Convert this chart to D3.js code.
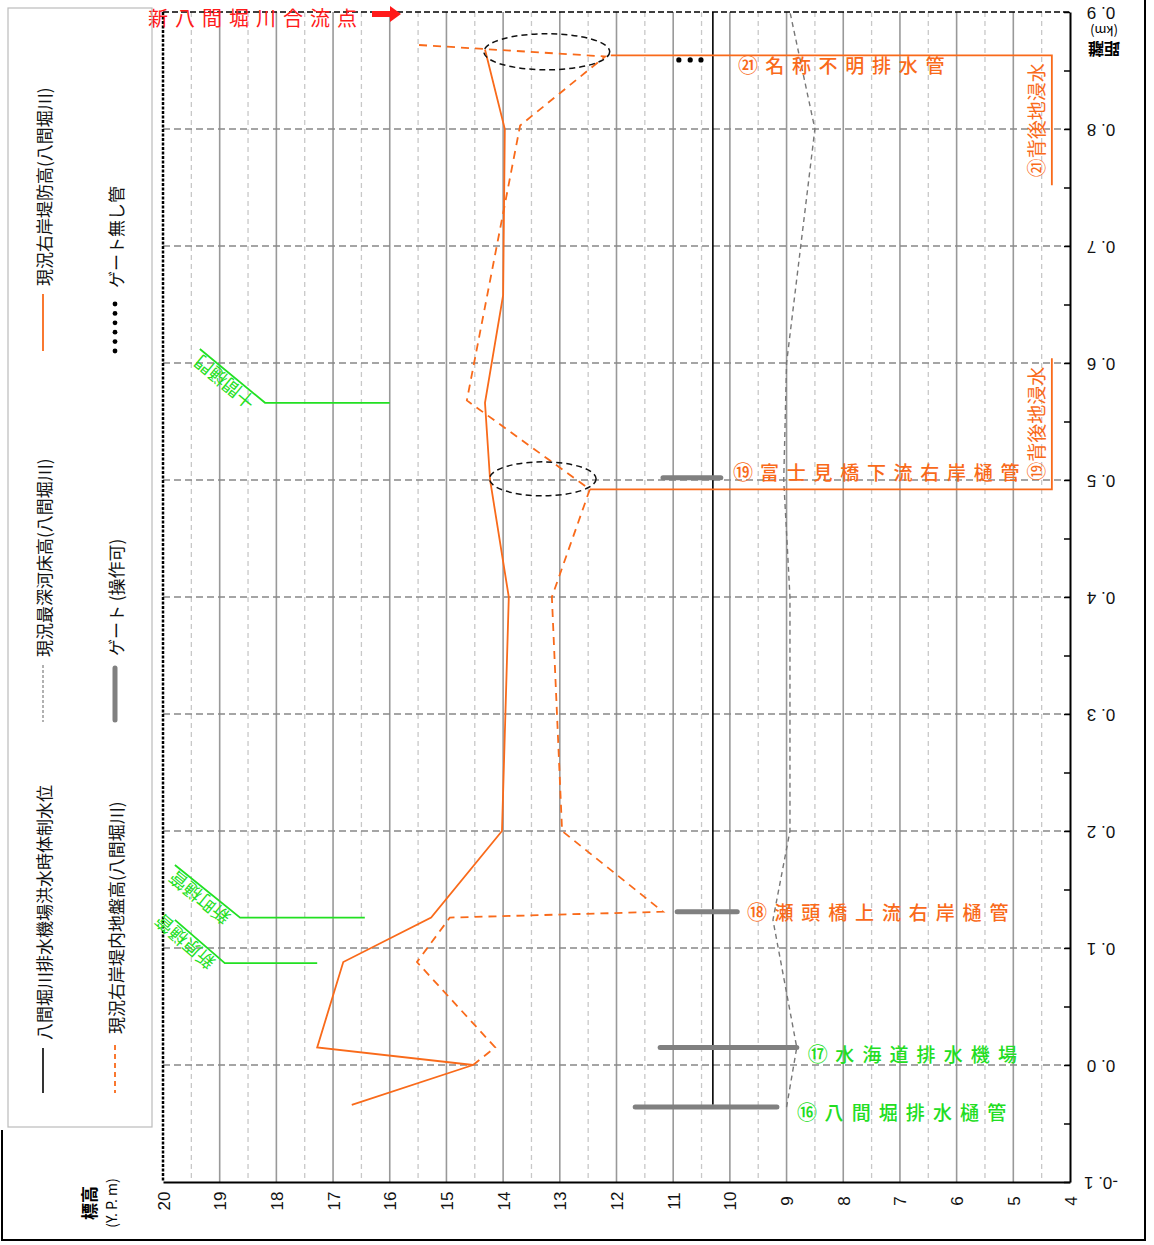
<!DOCTYPE html>
<meta charset="utf-8">
<style>
  body { margin: 0; background: #fff; overflow: hidden; }
  text { font-family: "Noto Sans CJK JP", sans-serif; }
  .num { font-family: "Liberation Sans", Arial, sans-serif; }
</style>
<svg id="canvas" width="1154" height="1245"></svg>
<script src="https://d3js.org/d3.v7.min.js"></script>
<script>

// ---- data (elevation in Y.P.m, distance in km) ----
var elevTicks = [20, 19, 18, 17, 16, 15, 14, 13, 12, 11, 10, 9, 8, 7, 6, 5, 4];
var distTicks = [-0.1, 0.0, 0.1, 0.2, 0.3, 0.4, 0.5, 0.6, 0.7, 0.8, 0.9];
var distLabels = ["-0. 1", "0. 0", "0. 1", "0. 2", "0. 3", "0. 4", "0. 5", "0. 6", "0. 7", "0. 8", "0. 9"];

// 八間堀川排水機場洪水時体制水位
var floodLevel = 10.3;
var floodRange = [-0.034, 0.9];

// 現況右岸堤防高
var leveeDist = [-0.034, 0.0, 0.015, 0.088, 0.126, 0.2, 0.4, 0.5, 0.566, 0.658, 0.8, 0.868];
var leveeElev = [16.67, 14.53, 17.28, 16.82, 15.27, 14.02, 13.9, 14.23, 14.32, 14.0, 13.97, 14.32];

// 現況右岸堤内地盤高
var groundDist = [0.0, 0.015, 0.088, 0.126, 0.131, 0.2, 0.4, 0.492, 0.568, 0.803, 0.862, 0.872];
var groundElev = [14.53, 14.14, 15.52, 14.94, 11.18, 12.96, 13.14, 12.47, 14.64, 13.7, 12.2, 15.55];

// 現況最深河床高
var bedDist = [-0.036, 0.015, 0.124, 0.2, 0.4, 0.5, 0.6, 0.8, 0.9];
var bedElev = [9.0, 8.82, 9.24, 8.94, 8.94, 9.05, 9.0, 8.5, 8.94];

// ゲート (操作可): distance, from elevation, to elevation
var gateDist = [-0.036, 0.015, 0.131, 0.502];
var gateFrom = [11.67, 11.23, 10.93, 11.18];
var gateTo = [9.17, 8.82, 9.87, 10.16];

// ゲート無し管
var pipeDist = 0.859;
var pipeElev = [10.9, 10.7, 10.51];

// facility labels
var facNames = ["⑯八間堀排水樋管", "⑰水海道排水機場", "⑱瀬頭橋上流右岸樋管", "⑲富士見橋下流右岸樋管", "㉑名称不明排水管"];
var facDist = [-0.040, 0.010, 0.131, 0.507, 0.855];
var facElev = [8.64, 8.45, 9.52, 9.77, 9.68];
var facStep = [0.478, 0.478, 0.474, 0.471, 0.471];
var facColor = ["#22dd22", "#22dd22", "#f96a1a", "#f96a1a", "#f96a1a"];

// 背後地浸水 callouts
var floodNames = ["⑲背後地浸水", "㉑背後地浸水"];
var floodLeaderDist = [[0.492, 0.604], [0.863, 0.752]];
var floodLeaderElev = [12.47, 12.1];

// ellipses (center elev, center dist, half width elev, half height dist)
var ellElev = [13.23, 13.3];
var ellDist = [0.866, 0.501];
var ellRx = [1.11, 0.94];
var ellRy = [0.0154, 0.0145];

// left bank (green) callouts
var greenNames = ["十間樋門", "新町樋管", "新原樋管"];
var greenDist = [0.566, 0.126, 0.087];
var greenElbow = [18.2, 18.64, 18.91];
var greenEnd = [16.0, 16.44, 17.28];
var greenTipElev = [19.35, 19.79, 19.79];
var greenTipDist = [0.612, 0.171, 0.124];

// ---- layout ----
var svg = d3.select("#canvas");
var x = d3.scaleLinear().domain([20, 4]).range([163, 1070]);
var y = d3.scaleLinear().domain([-0.1, 0.9]).range([1182, 12]);

var ORANGE = "#f96a1a", GREEN = "#22e022";

// grid
var grid = svg.append("g");
grid.selectAll(".half").data(d3.range(4.5, 20, 1)).enter().append("line")
    .attr("x1", d => x(d)).attr("x2", d => x(d)).attr("y1", y(0.9)).attr("y2", y(-0.1))
    .attr("stroke", "#c8c8c8").attr("stroke-width", 1.3).attr("stroke-dasharray", "5,4");
grid.selectAll(".int").data(d3.range(5, 20)).enter().append("line")
    .attr("x1", d => x(d)).attr("x2", d => x(d)).attr("y1", y(0.9)).attr("y2", y(-0.1))
    .attr("stroke", "#999").attr("stroke-width", 1.6);
grid.selectAll(".hz").data(distTicks.slice(1, 10)).enter().append("line")
    .attr("x1", x(20)).attr("x2", x(4)).attr("y1", d => y(d)).attr("y2", d => y(d))
    .attr("stroke", "#888").attr("stroke-width", 1.5).attr("stroke-dasharray", "7,4");

// frame of plot
svg.append("line").attr("x1", x(20)).attr("x2", x(20)).attr("y1", y(0.9)).attr("y2", y(-0.1))
    .attr("stroke", "#000").attr("stroke-width", 2.5).attr("stroke-dasharray", "3,1.5");
svg.append("line").attr("x1", x(20)).attr("x2", x(4)).attr("y1", y(0.9)).attr("y2", y(0.9))
    .attr("stroke", "#000").attr("stroke-width", 1.6).attr("stroke-dasharray", "6,3");

// right axis (distance), labels turned upside down
var yAxis = d3.axisRight(y).tickValues(d3.range(-0.1, 0.91, 0.05)).tickSize(0).tickFormat("");
var ya = svg.append("g").attr("transform", "translate(" + x(4) + ",0)").call(yAxis);
ya.select(".domain").attr("stroke", "#000").attr("stroke-width", 2);
ya.selectAll(".tick").append("line").attr("x1", -6).attr("x2", 0).attr("stroke", "#000").attr("stroke-width", 1.5);
svg.selectAll(".dlab").data(distTicks).enter().append("text")
    .attr("class", "num")
    .attr("transform", d => "translate(" + 1101 + "," + y(d) + ") rotate(180)")
    .attr("text-anchor", "middle").attr("dominant-baseline", "central")
    .attr("font-size", 17).attr("fill", "#111")
    .text((d, i) => distLabels[i]);
svg.append("text").attr("transform", "translate(1104,31) rotate(180)")
    .attr("text-anchor", "middle").attr("dominant-baseline", "central")
    .attr("font-size", 13).text("(km)");
svg.append("text").attr("transform", "translate(1104,50) rotate(180)")
    .attr("text-anchor", "middle").attr("dominant-baseline", "central")
    .attr("font-size", 16).attr("font-weight", "bold").text("距離");

// bottom axis (elevation), labels turned -90
var xAxis = d3.axisBottom(x).tickValues(elevTicks).tickSize(0).tickFormat("");
var xa = svg.append("g").attr("transform", "translate(0," + y(-0.1) + ")").call(xAxis);
xa.select(".domain").attr("stroke", "#000").attr("stroke-width", 2);
svg.selectAll(".elab").data(elevTicks).enter().append("text")
    .attr("class", "num")
    .attr("transform", d => "translate(" + (x(d) + 1) + ",1201) rotate(-90)")
    .attr("text-anchor", "middle").attr("dominant-baseline", "central")
    .attr("font-size", 17).attr("fill", "#111")
    .text(d => d);
svg.append("text").attr("transform", "translate(88,1203) rotate(-90)")
    .attr("text-anchor", "middle").attr("dominant-baseline", "central")
    .attr("font-size", 17).attr("font-weight", "bold").text("標高");
svg.append("text").attr("transform", "translate(111,1203) rotate(-90)")
    .attr("text-anchor", "middle").attr("dominant-baseline", "central")
    .attr("font-size", 14).text("(Y. P. m)");

// ---- series ----
var line = d3.line().x(d => x(d[1])).y(d => y(d[0]));

svg.append("path").datum(bedDist.map((d, i) => [d, bedElev[i]]))
    .attr("d", line).attr("fill", "none").attr("stroke", "#777")
    .attr("stroke-width", 1.4).attr("stroke-dasharray", "5,4");

svg.append("line").attr("x1", x(floodLevel)).attr("x2", x(floodLevel))
    .attr("y1", y(floodRange[0])).attr("y2", y(floodRange[1]))
    .attr("stroke", "#000").attr("stroke-width", 1.6);

svg.selectAll(".gate").data(gateDist).enter().append("line")
    .attr("x1", (d, i) => x(gateFrom[i])).attr("x2", (d, i) => x(gateTo[i]))
    .attr("y1", d => y(d)).attr("y2", d => y(d))
    .attr("stroke", "#808080").attr("stroke-width", 5).attr("stroke-linecap", "round");

svg.selectAll(".pipe").data(pipeElev).enter().append("circle")
    .attr("cx", d => x(d)).attr("cy", y(pipeDist)).attr("r", 2.6).attr("fill", "#000");

svg.append("path").datum(groundDist.map((d, i) => [d, groundElev[i]]))
    .attr("d", line).attr("fill", "none").attr("stroke", ORANGE)
    .attr("stroke-width", 1.8).attr("stroke-dasharray", "8,6");

svg.append("path").datum(leveeDist.map((d, i) => [d, leveeElev[i]]))
    .attr("d", line).attr("fill", "none").attr("stroke", ORANGE).attr("stroke-width", 1.8);

// ellipses
svg.selectAll(".ell").data(ellElev).enter().append("ellipse")
    .attr("cx", d => x(d)).attr("cy", (d, i) => y(ellDist[i]))
    .attr("rx", (d, i) => x(20 - ellRx[i]) - x(20))
    .attr("ry", (d, i) => y(0) - y(ellRy[i]))
    .attr("fill", "none").attr("stroke", "#111").attr("stroke-width", 1.5).attr("stroke-dasharray", "6,4");

// 背後地浸水 leaders
floodNames.forEach(function(name, i) {
  var dd = floodLeaderDist[i];
  svg.append("path")
     .attr("d", "M" + x(floodLeaderElev[i]) + "," + y(dd[0]) + "H" + x(4.32) + "V" + y(dd[1]))
     .attr("fill", "none").attr("stroke", ORANGE).attr("stroke-width", 1.8);
  var mid = (dd[0] + dd[1]) / 2;
  svg.append("text")
     .attr("transform", "translate(" + x(4.6) + "," + y(mid) + ") rotate(-90)")
     .attr("text-anchor", "middle").attr("dominant-baseline", "central")
     .attr("font-size", 19).attr("fill", ORANGE).text(name);
});

// facility names, one character at a time
facNames.forEach(function(name, i) {
  Array.from(name).forEach(function(c, k) {
    svg.append("text")
       .attr("x", x(facElev[i] - k * facStep[i])).attr("y", y(facDist[i]))
       .attr("text-anchor", "middle").attr("dominant-baseline", "central")
       .attr("font-size", k == 0 ? 20 : 19).attr("font-weight", 500)
       .attr("fill", facColor[i]).text(c);
  });
});

// green callouts
greenNames.forEach(function(name, i) {
  svg.append("path")
     .attr("d", "M" + x(greenTipElev[i]) + "," + y(greenTipDist[i]) +
                "L" + x(greenElbow[i]) + "," + y(greenDist[i]) + "H" + x(greenEnd[i]))
     .attr("fill", "none").attr("stroke", GREEN).attr("stroke-width", 1.8);
  var x0 = x(greenElbow[i]), y0 = y(greenDist[i]);
  var x1 = x(greenTipElev[i]), y1 = y(greenTipDist[i]);
  var ang = Math.atan2(y1 - y0, x1 - x0);
  var ux = Math.cos(ang), uy = Math.sin(ang);
  var px = Math.sin(ang), py = -Math.cos(ang);   // glyph "up" direction after rotation
  svg.append("text")
     .attr("transform", "translate(" + (x0 + ux * 8 + px * 3) + "," + (y0 + uy * 8 + py * 3) +
                        ") rotate(" + (ang * 180 / Math.PI) + ")")
     .attr("font-size", 18).attr("fill", GREEN).text(name);
});

// 新八間堀川合流点
Array.from("新八間堀川合流点").forEach(function(c, k) {
  svg.append("text").attr("x", 158 + k * 27).attr("y", 17)
     .attr("text-anchor", "middle").attr("dominant-baseline", "central")
     .attr("font-size", 20).attr("fill", "#ff1a1a").text(c);
});
svg.append("path").attr("d", "M372,11H390V6L401,14L390,22V17H372Z").attr("fill", "#ff1a1a");

// ---- legend ----
svg.append("rect").attr("x", 8).attr("y", 8).attr("width", 144).attr("height", 1119)
   .attr("fill", "none").attr("stroke", "#bbb").attr("stroke-width", 1.2);

function legText(cx, yStart, str, size) {
  svg.append("text").attr("transform", "translate(" + cx + "," + yStart + ") rotate(-90)")
     .attr("dominant-baseline", "central").attr("font-size", size || 17).attr("fill", "#111").text(str);
}
// column 1
svg.append("line").attr("x1", 43).attr("x2", 43).attr("y1", 1048).attr("y2", 1093).attr("stroke", "#000").attr("stroke-width", 1.6);
legText(43, 1040, "八間堀川排水機場洪水時体制水位");
svg.append("line").attr("x1", 43).attr("x2", 43).attr("y1", 665).attr("y2", 722).attr("stroke", "#888").attr("stroke-width", 1.3).attr("stroke-dasharray", "3,2");
legText(43, 657, "現況最深河床高(八間堀川)");
svg.append("line").attr("x1", 43).attr("x2", 43).attr("y1", 294).attr("y2", 351).attr("stroke", ORANGE).attr("stroke-width", 1.8);
legText(43, 286, "現況右岸堤防高(八間堀川)");
// column 2
svg.append("line").attr("x1", 115).attr("x2", 115).attr("y1", 1045).attr("y2", 1093).attr("stroke", ORANGE).attr("stroke-width", 1.8).attr("stroke-dasharray", "5,4");
legText(115, 1034, "現況右岸堤内地盤高(八間堀川)");
svg.append("line").attr("x1", 115).attr("x2", 115).attr("y1", 668).attr("y2", 720).attr("stroke", "#808080").attr("stroke-width", 5).attr("stroke-linecap", "round");
legText(115, 656, "ゲート (操作可)");
svg.selectAll(".ldot").data(d3.range(6)).enter().append("circle")
   .attr("cx", 115).attr("cy", d => 304 + d * 9.4).attr("r", 2.4).attr("fill", "#000");
legText(115, 288, "ゲート無し管");

// outer frame
svg.append("path").attr("d", "M2,1130V1240H1145V0").attr("fill", "none").attr("stroke", "#000").attr("stroke-width", 2);

</script>
